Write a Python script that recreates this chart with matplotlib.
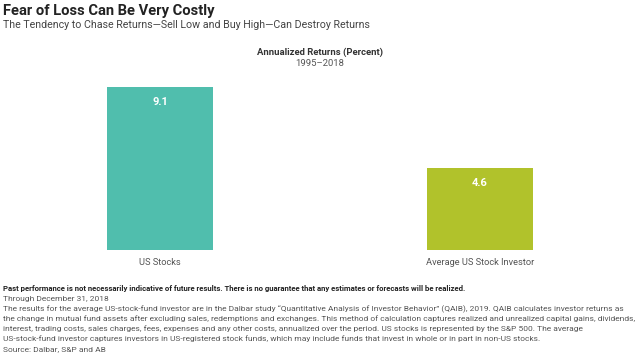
import matplotlib.pyplot as plt

plt.rcParams['font.family'] = ['Roboto', 'DejaVu Sans']

categories = ["US Stocks", "Average US Stock Investor"]
returns = [9.1, 4.6]
bar_colors = ["#50BEAD", "#B1C22B"]

title = "Fear of Loss Can Be Very Costly"
subtitle = "The Tendency to Chase Returns\u2014Sell Low and Buy High\u2014Can Destroy Returns"
chart_title = "Annualized Returns (Percent)"
period = "1995\u20132018"
disclaimer = ("Past performance is not necessarily indicative of future results. "
              "There is no guarantee that any estimates or forecasts will be realized.")
notes = [
    "Through December 31, 2018",
    "The results for the average US-stock-fund investor are in the Dalbar study \u201cQuantitative Analysis of Investor Behavior\u201d (QAIB), 2019. QAIB calculates investor returns as",
    "the change in mutual fund assets after excluding sales, redemptions and exchanges. This method of calculation captures realized and unrealized capital gains, dividends,",
    "interest, trading costs, sales charges, fees, expenses and any other costs, annualized over the period. US stocks is represented by the S&P 500. The average",
    "US-stock-fund investor captures investors in US-registered stock funds, which may include funds that invest in whole or in part in non-US stocks.",
    "Source: Dalbar, S&P and AB",
]

W, H = 640, 362
fig = plt.figure(figsize=(W / 100, H / 100), dpi=100)

def fy(y):
    return 1 - y / H

# axes: bottom of bars at y=250 px, top of 9.1 bar at y=87 px
ax = fig.add_axes([0, fy(250), 1, 163 / H])
x = range(len(categories))
bars = ax.bar(x, returns, width=0.332, color=bar_colors)
ax.set_xlim(-0.5, 1.5)
ax.set_ylim(0, returns[0])
ax.axis("off")
for i, (b, v) in enumerate(zip(bars, returns)):
    cx = b.get_x() + b.get_width() / 2
    ax.annotate(f"{v:.1f}", (cx, v), xytext=(0, -11),
                textcoords="offset points", ha="center", va="center",
                color="white", fontsize=8, fontweight="bold")
    ax.annotate(categories[i], (cx, 0),
                xytext=(0, -9), textcoords="offset points", ha="center", va="center",
                color="#555555", fontsize=6.7)

fig.text(3 / W, fy(11), title, fontsize=10.6, fontweight="bold", color="#222222", va="center")
fig.text(3 / W, fy(25), subtitle, fontsize=7.7, color="#444444", va="center")
fig.text(320 / W, fy(52), chart_title, fontsize=6.8, fontweight="bold", color="#333333",
         ha="center", va="center")
fig.text(320 / W, fy(64), period, fontsize=6.8, color="#555555", ha="center", va="center")

fig.text(3 / W, fy(289), disclaimer, fontsize=5.6, fontweight="bold", color="#222222", va="center")
for i, line in enumerate(notes):
    fig.text(3 / W, fy(299 + 10 * i), line, fontsize=6.05, color="#555555", va="center")

fig.savefig("out.png", dpi=100, facecolor="white")
